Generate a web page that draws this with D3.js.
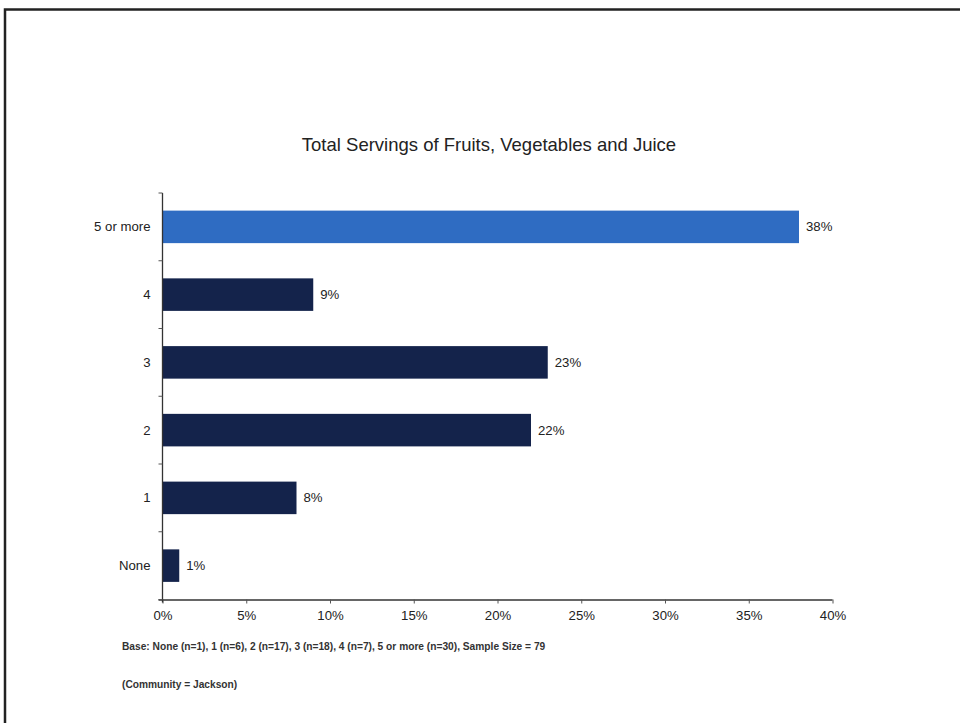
<!DOCTYPE html>
<html><head><meta charset="utf-8">
<script src="https://cdn.jsdelivr.net/npm/d3@7"></script>
<style>body{margin:0;background:#fff}svg{display:block}text{font-family:"Liberation Sans",Arial,sans-serif}</style>
</head><body>
<script>
const categories = ["5 or more", "4", "3", "2", "1", "None"];
const values = [38, 9, 23, 22, 8, 1];
const valueLabels = ["38%", "9%", "23%", "22%", "8%", "1%"];
const xTicks = [0, 5, 10, 15, 20, 25, 30, 35, 40];
const title = "Total Servings of Fruits, Vegetables and Juice";
const notes = ["Base: None (n=1), 1 (n=6), 2 (n=17), 3 (n=18), 4 (n=7), 5 or more (n=30), Sample Size = 79", "(Community = Jackson)"];

const W = 960, H = 723;
const svg = d3.select("body").append("svg").attr("width", W).attr("height", H);
// frame
svg.append("path").attr("d", `M5,${H} L5,9.5 L${W},9.5`).attr("fill","none").attr("stroke","#222").attr("stroke-width",2.5);

const m = {left: 162.5, right: 832.5, top: 193, bottom: 599.5};
const x = d3.scaleLinear().domain([0, 40]).range([m.left, m.right]);
const y = d3.scaleBand().domain(categories).range([m.top, m.bottom]).paddingInner(0.52).paddingOuter(0.26);

svg.append("text").attr("x", 489).attr("y", 151).attr("text-anchor","middle")
  .attr("font-size", 18.5).attr("fill","#222").text(title);

svg.selectAll("rect.bar").data(values).join("rect").attr("class","bar")
  .attr("x", x(0)).attr("y", (d,i)=>y(categories[i]))
  .attr("width", d=>x(d)-x(0)).attr("height", y.bandwidth())
  .attr("fill", (d,i)=> i===0 ? "#2f6cc2" : "#14234b");

svg.selectAll("text.val").data(values).join("text").attr("class","val")
  .attr("x", d=>x(d)+7).attr("y", (d,i)=>y(categories[i])+y.bandwidth()/2+4.5)
  .attr("font-size", 13.2).attr("fill","#222").text((d,i)=>valueLabels[i]);

// x axis
const xa = svg.append("g").attr("transform", `translate(0,${m.bottom})`)
  .call(d3.axisBottom(x).tickValues(xTicks).tickSize(4).tickFormat(d=>d+"%"));
xa.select(".domain").attr("d", `M${m.left-4},0.5H${m.right}`).attr("stroke","#333").attr("stroke-width",1.3);
xa.selectAll(".tick line").attr("stroke","#555");
xa.selectAll(".tick text").attr("font-size", 13.2).attr("fill","#222").attr("dy","1.0em")
  .attr("font-family",'"Liberation Sans",Arial,sans-serif');

// y axis
const yBoundaries = d3.range(categories.length+1).map(i => m.top + i*(m.bottom-m.top)/categories.length);
svg.append("line").attr("x1", m.left).attr("x2", m.left).attr("y1", m.top).attr("y2", m.bottom+3)
  .attr("stroke","#333").attr("stroke-width",1.3);
svg.selectAll("line.ytick").data(yBoundaries).join("line").attr("class","ytick")
  .attr("x1", m.left-4).attr("x2", m.left).attr("y1", d=>d).attr("y2", d=>d).attr("stroke","#555");
svg.selectAll("text.cat").data(categories).join("text").attr("class","cat")
  .attr("x", m.left-12).attr("y", d=>y(d)+y.bandwidth()/2+4.5).attr("text-anchor","end")
  .attr("font-size", 13.2).attr("fill","#222").text(d=>d);

svg.append("text").attr("x", 122).attr("y", 650).attr("font-size", 10.2).attr("font-weight","bold").attr("fill","#333").text(notes[0]);
svg.append("text").attr("x", 122).attr("y", 688).attr("font-size", 10.2).attr("font-weight","bold").attr("fill","#333").text(notes[1]);
</script>
</body></html>
